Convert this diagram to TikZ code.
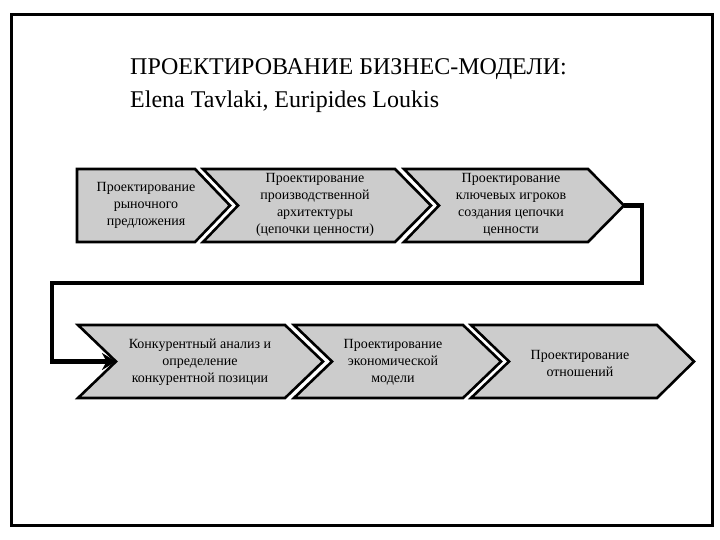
\documentclass[tikz,border=0pt]{standalone}
\usepackage{fontspec}
\setmainfont{Liberation Serif}
\usetikzlibrary{arrows.meta}

\tikzset{
	stage/.style={fill=black!20, draw=black, line width=2.6pt, line join=miter},
	stagetext/.style={align=center, font=\fontsize{14}{17}\selectfont},
	titletext/.style={anchor=base west, inner sep=0pt, font=\fontsize{24}{33}\selectfont},
	link/.style={line width=4.5pt, -{Stealth[length=14pt, width=17pt]}}
}

\begin{document}
\begin{tikzpicture}[x=1pt, y=-1pt]
		\useasboundingbox (0,0) rectangle (720,540);
		% Draw frame
		\draw [line width=3pt] (11,15) rectangle (712,525);

		% Title
		\node (title) [titletext] at (130,75) {ПРОЕКТИРОВАНИЕ БИЗНЕС-МОДЕЛИ:};
		\node (authors) [titletext] at (130,108) {Elena Tavlaki, Euripides Loukis};

		% Top row: left, notch, right, tip
		\draw [stage] (77,169) -- (195,169) -- (230,205.5) -- (195,242) -- (77,242) -- cycle;
		\foreach \l/\n/\r/\t in {203/238/395/431, 404/439/588/624}
			\draw [stage] (\l,169) -- (\r,169) -- (\t,205.5) -- (\r,242) -- (\l,242) -- (\n,205.5) -- cycle;
		% Bottom row
		\foreach \l/\n/\r/\t in {78/116/285/323, 294/332/463/501, 471/509/657/694}
			\draw [stage] (\l,325) -- (\r,325) -- (\t,361.5) -- (\r,398) -- (\l,398) -- (\n,361.5) -- cycle;

		\coordinate (out) at (624,205.5);
		\coordinate (in) at (116,361.5);

		% Texts
		\node (s1) [stagetext] at (146,205) {Проектирование\\рыночного\\предложения};
		\node (s2) [stagetext] at (315,205) {Проектирование\\производственной\\архитектуры\\(цепочки ценности)};
		\node (s3) [stagetext] at (511,205) {Проектирование\\ключевых игроков\\создания цепочки\\ценности};
		\node (s4) [stagetext] at (200,362) {Конкурентный анализ и\\определение\\конкурентной позиции};
		\node (s5) [stagetext] at (393,362) {Проектирование\\экономической\\модели};
		\node (s6) [stagetext] at (580,363) {Проектирование\\отношений};

		% Connector
		\draw [link] (out) -- ++(18,0) |- (52,283) |- (in);
	\end{tikzpicture}
\end{document}
